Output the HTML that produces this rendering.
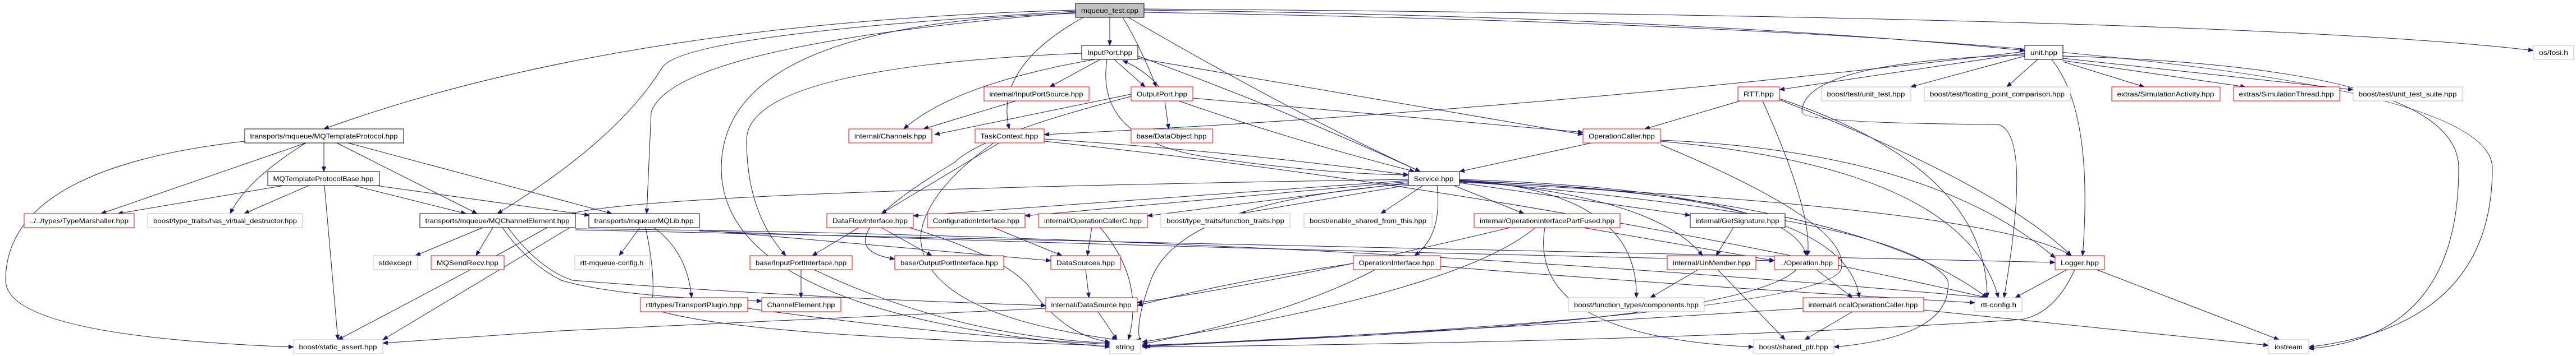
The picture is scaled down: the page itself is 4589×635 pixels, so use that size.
<!DOCTYPE html>
<html><head><meta charset="utf-8"><style>
html,body{margin:0;padding:0;background:#fff;}
svg{display:block}
text{font-family:"Liberation Sans",sans-serif;font-size:12px;fill:#000}
</style></head><body>
<svg width="4589" height="635" viewBox="0 0 4589 635" xmlns="http://www.w3.org/2000/svg">
<defs><marker id="a" markerWidth="10" markerHeight="8" refX="9" refY="4" orient="auto" markerUnits="userSpaceOnUse"><path d="M0,0 L10,4 L0,8 z" fill="#191970"/></marker></defs>
<g fill="none" stroke="#191970" stroke-width="1" marker-end="url(#a)">
<!-- mqueue_test -->
<path d="M1977 31 L1977 81"/>
<path d="M2000 31 Q2030 80 2060 155"/>
<path d="M1930 31 Q1770 120 1798 230"/>
<path d="M1916 18 Q1100 40 577 230"/>
<path d="M1916 20 Q1220 60 1180 120 Q1100 250 886 381"/>
<path d="M1916 22 Q1200 80 1160 200 L1152 381"/>
<path d="M2010 31 Q2300 200 2530 306"/>
<path d="M2038 18 Q3000 30 3607 90"/>
<path d="M2038 16 Q4000 30 4513 90"/>
<path d="M2038 22 Q4440 60 4440 300 Q4440 580 4113 619"/>
<path d="M1916 24 Q1285 40 1285 300 Q1285 560 1977 619"/>
<!-- InputPort -->
<path d="M1960 106 L1870 155"/>
<path d="M1985 106 L2040 155"/>
<path d="M1950 106 Q1700 150 1610 230"/>
<path d="M1927 95 Q1330 120 1330 250 Q1330 380 1400 456"/>
<path d="M2027 100 Q2300 200 2530 306"/>
<path d="M2027 104 L2820 240"/>
<path d="M1972 106 Q1950 250 2150 280 Q2350 310 2509 312"/>
<!-- OutputPort -->
<path d="M2065 155 Q2040 125 2000 108"/>
<path d="M2015 168 L1665 240"/>
<path d="M2075 180 L2082 230"/>
<path d="M2015 172 Q1750 240 1700 290 Q1450 440 1594 462"/>
<path d="M2100 180 Q2300 250 2520 306"/>
<path d="M2125 175 L2820 236"/>
<!-- InputPortSource -->
<path d="M1810 180 L1645 230"/>
<!-- TaskContext -->
<path d="M1780 255 L1570 381"/>
<path d="M1860 248 Q2200 270 2509 312"/>
<path d="M1860 252 Q2700 340 3540 531"/>
<path d="M1770 255 Q1650 340 1640 420 Q1640 560 1990 606"/>
<!-- unit -->
<path d="M3607 95 L3170 160"/>
<path d="M3607 100 L3404 155"/>
<path d="M3630 106 L3575 155"/>
<path d="M3675 110 L3820 155"/>
<path d="M3675 108 L4000 155"/>
<path d="M3675 104 L4192 160"/>
<path d="M3655 106 Q3730 200 3710 456"/>
<path d="M3607 98 Q3210 110 3210 200 Q3210 220 3560 222 Q3620 240 3570 531"/>
<path d="M3675 100 Q4380 120 4380 300 Q4380 600 4113 622"/>
<path d="M3607 92 Q2700 200 1860 240"/>
<!-- RTT -->
<path d="M3100 180 L2930 230"/>
<path d="M3140 180 Q3230 380 3220 456"/>
<path d="M3170 178 Q3560 330 3690 456"/>
<path d="M3170 176 Q3540 300 3540 531"/>
<!-- OperationCaller -->
<path d="M2835 255 L2600 306"/>
<path d="M2958 250 Q3440 270 3661 460"/>
<path d="M2958 258 Q3300 400 3280 480 Q3250 560 2040 618"/>
<path d="M2958 252 Q3500 300 3560 531"/>
<!-- Service -->
<path d="M2535 331 L2460 381"/>
<path d="M2590 331 L2715 381"/>
<path d="M2600 326 L3011 384"/>
<path d="M2560 331 Q2570 420 2520 456"/>
<path d="M2600 322 Q2950 350 3033 456"/>
<path d="M2600 320 Q3190 340 3218 456"/>
<path d="M2600 321 Q2920 340 2915 531"/>
<path d="M2600 324 Q3290 340 3312 531"/>
<path d="M2509 322 L1627 385"/>
<path d="M2509 324 L1826 385"/>
<path d="M2509 326 L2044 385"/>
<path d="M2509 330 L2210 381"/>
<path d="M2509 320 Q1200 340 1020 380 Q900 450 602 606"/>
<path d="M2509 328 Q2100 360 2050 500 Q2020 580 2032 612"/>
<path d="M2600 323 Q3400 390 3470 500 Q3480 600 3267 619"/>
<path d="M2600 322 Q3300 350 3540 531"/>
<path d="M2600 325 Q3550 370 3690 456"/>
<!-- MQTemplateProtocol -->
<path d="M577 255 L577 306"/>
<path d="M545 255 L180 381"/>
<path d="M545 255 Q440 320 410 381"/>
<path d="M600 255 L850 381"/>
<path d="M620 255 L1090 381"/>
<path d="M436 252 Q10 300 10 500 Q10 600 523 619"/>
<!-- MQTPB -->
<path d="M505 331 L210 381"/>
<path d="M550 331 L435 381"/>
<path d="M578 331 L602 606"/>
<path d="M630 331 L830 381"/>
<path d="M670 331 L1050 384"/>
<!-- MQChannelElement -->
<path d="M860 406 L740 456"/>
<path d="M878 406 L848 456"/>
<path d="M895 406 Q940 470 1000 500 Q1100 530 1357 537"/>
<path d="M905 406 Q960 480 1020 500 Q1400 530 1863 545"/>
<path d="M1025 410 Q2300 440 3661 468"/>
<path d="M1025 408 Q2300 420 3540 531"/>
<path d="M1025 400 L682 606"/>
<!-- MQLib -->
<path d="M1140 406 L1103 456"/>
<path d="M1165 406 Q1225 450 1232 531"/>
<path d="M1150 406 Q1170 500 1160 550 Q1300 600 1977 616"/>
<path d="M1246 410 L1872 465"/>
<path d="M1246 412 Q2000 440 3161 465"/>
<!-- DataFlowInterface -->
<path d="M1530 406 L1447 456"/>
<path d="M1570 406 L1660 456"/>
<path d="M1620 406 Q1800 460 1840 520 Q1900 600 1977 610"/>
<!-- ConfigurationInterface / OperationCallerC -->
<path d="M1770 406 L1892 456"/>
<path d="M1945 406 L1937 456"/>
<path d="M1960 406 Q2040 500 2010 606"/>
<!-- InputPortInterface -->
<path d="M1427 481 L1427 531"/>
<path d="M1450 481 Q1700 600 1977 612"/>
<!-- DataSources / DataSource -->
<path d="M1934 481 L1940 531"/>
<path d="M1956 556 L1990 606"/>
<path d="M1863 550 L1000 590 L682 612"/>
<!-- TransportPlugin -->
<path d="M1332 550 Q1700 600 1977 614"/>
<!-- OperationInterfacePartFused -->
<path d="M2690 406 Q2300 500 2026 540"/>
<path d="M2735 406 Q2600 520 2035 610"/>
<path d="M2752 406 Q2720 600 3124 619"/>
<path d="M2820 406 L3161 465"/>
<!-- OperationInterface -->
<path d="M2411 470 Q2200 500 2026 545"/>
<path d="M2450 481 Q2300 560 2035 614"/>
<path d="M2566 475 Q3000 510 3518 540"/>
<!-- GetSignature / UnMember / Operation -->
<path d="M3088 406 L3057 456"/>
<path d="M3025 481 L2940 531"/>
<path d="M3060 481 L3180 606"/>
<path d="M3236 481 L3300 531"/>
<path d="M3200 481 Q3100 580 2035 616"/>
<!-- LocalOperationCaller -->
<path d="M3300 556 L3215 606"/>
<path d="M3212 550 Q2600 590 2035 617"/>
<path d="M3427 553 L4041 616"/>
<!-- Logger -->
<path d="M3682 481 L3590 531"/>
<path d="M3735 481 L4060 606"/>
<path d="M3696 481 Q3660 560 3600 570 Q3000 610 2035 619"/>
</g>
<g stroke-width="1">
<!-- nodes: rect + text -->
<rect x="1916" y="6" width="122" height="25" fill="#bfbfbf" stroke="#000"/><text x="1977" y="23" text-anchor="middle" textLength="102" lengthAdjust="spacingAndGlyphs">mqueue_test.cpp</text>

<rect x="1927" y="81" width="100" height="25" fill="#fff" stroke="#000"/><text x="1977" y="98" text-anchor="middle" textLength="80" lengthAdjust="spacingAndGlyphs">InputPort.hpp</text>
<rect x="3607" y="81" width="68" height="25" fill="#fff" stroke="#000"/><text x="3641" y="98" text-anchor="middle" textLength="48" lengthAdjust="spacingAndGlyphs">unit.hpp</text>
<rect x="4513" y="81" width="72" height="25" fill="#fff" stroke="#bfbfbf"/><text x="4549" y="98" text-anchor="middle" textLength="52" lengthAdjust="spacingAndGlyphs">os/fosi.h</text>

<rect x="1753" y="155" width="187" height="25" fill="#fff" stroke="#f00"/><text x="1846" y="172" text-anchor="middle" textLength="167" lengthAdjust="spacingAndGlyphs">internal/InputPortSource.hpp</text>
<rect x="2015" y="155" width="110" height="25" fill="#fff" stroke="#f00"/><text x="2070" y="172" text-anchor="middle" textLength="90" lengthAdjust="spacingAndGlyphs">OutputPort.hpp</text>
<rect x="3096" y="155" width="74" height="25" fill="#fff" stroke="#f00"/><text x="3133" y="172" text-anchor="middle" textLength="54" lengthAdjust="spacingAndGlyphs">RTT.hpp</text>
<rect x="3245" y="155" width="159" height="25" fill="#fff" stroke="#bfbfbf"/><text x="3324" y="172" text-anchor="middle" textLength="139" lengthAdjust="spacingAndGlyphs">boost/test/unit_test.hpp</text>
<rect x="3428" y="155" width="260" height="25" fill="#fff" stroke="#bfbfbf"/><text x="3558" y="172" text-anchor="middle" textLength="240" lengthAdjust="spacingAndGlyphs">boost/test/floating_point_comparison.hpp</text>
<rect x="3762" y="155" width="193" height="25" fill="#fff" stroke="#f00"/><text x="3858" y="172" text-anchor="middle" textLength="173" lengthAdjust="spacingAndGlyphs">extras/SimulationActivity.hpp</text>
<rect x="3979" y="155" width="189" height="25" fill="#fff" stroke="#f00"/><text x="4073" y="172" text-anchor="middle" textLength="169" lengthAdjust="spacingAndGlyphs">extras/SimulationThread.hpp</text>
<rect x="4192" y="155" width="195" height="25" fill="#fff" stroke="#bfbfbf"/><text x="4289" y="172" text-anchor="middle" textLength="175" lengthAdjust="spacingAndGlyphs">boost/test/unit_test_suite.hpp</text>

<rect x="436" y="230" width="283" height="25" fill="#fff" stroke="#000"/><text x="577" y="247" text-anchor="middle" textLength="263" lengthAdjust="spacingAndGlyphs">transports/mqueue/MQTemplateProtocol.hpp</text>
<rect x="1512" y="230" width="148" height="25" fill="#fff" stroke="#f00"/><text x="1586" y="247" text-anchor="middle" textLength="128" lengthAdjust="spacingAndGlyphs">internal/Channels.hpp</text>
<rect x="1737" y="230" width="123" height="25" fill="#fff" stroke="#f00"/><text x="1798" y="247" text-anchor="middle" textLength="103" lengthAdjust="spacingAndGlyphs">TaskContext.hpp</text>
<rect x="2015" y="230" width="145" height="25" fill="#fff" stroke="#f00"/><text x="2087" y="247" text-anchor="middle" textLength="125" lengthAdjust="spacingAndGlyphs">base/DataObject.hpp</text>
<rect x="2820" y="230" width="138" height="25" fill="#fff" stroke="#f00"/><text x="2889" y="247" text-anchor="middle" textLength="118" lengthAdjust="spacingAndGlyphs">OperationCaller.hpp</text>

<rect x="477" y="306" width="199" height="25" fill="#fff" stroke="#000"/><text x="576" y="323" text-anchor="middle" textLength="179" lengthAdjust="spacingAndGlyphs">MQTemplateProtocolBase.hpp</text>
<rect x="2509" y="306" width="91" height="25" fill="#fff" stroke="#000"/><text x="2554" y="323" text-anchor="middle" textLength="71" lengthAdjust="spacingAndGlyphs">Service.hpp</text>

<rect x="43" y="381" width="196" height="25" fill="#fff" stroke="#f00"/><text x="141" y="398" text-anchor="middle" textLength="176" lengthAdjust="spacingAndGlyphs">../../types/TypeMarshaller.hpp</text>
<rect x="263" y="381" width="276" height="25" fill="#fff" stroke="#bfbfbf"/><text x="401" y="398" text-anchor="middle" textLength="256" lengthAdjust="spacingAndGlyphs">boost/type_traits/has_virtual_destructor.hpp</text>
<rect x="748" y="381" width="277" height="25" fill="#fff" stroke="#000"/><text x="886" y="398" text-anchor="middle" textLength="257" lengthAdjust="spacingAndGlyphs">transports/mqueue/MQChannelElement.hpp</text>
<rect x="1049" y="381" width="197" height="25" fill="#fff" stroke="#000"/><text x="1147" y="398" text-anchor="middle" textLength="177" lengthAdjust="spacingAndGlyphs">transports/mqueue/MQLib.hpp</text>
<rect x="1473" y="381" width="154" height="25" fill="#fff" stroke="#f00"/><text x="1550" y="398" text-anchor="middle" textLength="134" lengthAdjust="spacingAndGlyphs">DataFlowInterface.hpp</text>
<rect x="1652" y="381" width="174" height="25" fill="#fff" stroke="#f00"/><text x="1739" y="398" text-anchor="middle" textLength="154" lengthAdjust="spacingAndGlyphs">ConfigurationInterface.hpp</text>
<rect x="1850" y="381" width="194" height="25" fill="#fff" stroke="#f00"/><text x="1947" y="398" text-anchor="middle" textLength="174" lengthAdjust="spacingAndGlyphs">internal/OperationCallerC.hpp</text>
<rect x="2068" y="381" width="230" height="25" fill="#fff" stroke="#bfbfbf"/><text x="2183" y="398" text-anchor="middle" textLength="210" lengthAdjust="spacingAndGlyphs">boost/type_traits/function_traits.hpp</text>
<rect x="2323" y="381" width="228" height="25" fill="#fff" stroke="#bfbfbf"/><text x="2437" y="398" text-anchor="middle" textLength="208" lengthAdjust="spacingAndGlyphs">boost/enable_shared_from_this.hpp</text>
<rect x="2626" y="381" width="260" height="25" fill="#fff" stroke="#f00"/><text x="2756" y="398" text-anchor="middle" textLength="240" lengthAdjust="spacingAndGlyphs">internal/OperationInterfacePartFused.hpp</text>
<rect x="3011" y="381" width="169" height="25" fill="#fff" stroke="#000"/><text x="3095" y="398" text-anchor="middle" textLength="149" lengthAdjust="spacingAndGlyphs">internal/GetSignature.hpp</text>

<rect x="665" y="456" width="79" height="25" fill="#fff" stroke="#bfbfbf"/><text x="704" y="473" text-anchor="middle" textLength="59" lengthAdjust="spacingAndGlyphs">stdexcept</text>
<rect x="768" y="456" width="130" height="25" fill="#fff" stroke="#f00"/><text x="833" y="473" text-anchor="middle" textLength="110" lengthAdjust="spacingAndGlyphs">MQSendRecv.hpp</text>
<rect x="1024" y="456" width="133" height="25" fill="#fff" stroke="#bfbfbf"/><text x="1090" y="473" text-anchor="middle" textLength="113" lengthAdjust="spacingAndGlyphs">rtt-mqueue-config.h</text>
<rect x="1336" y="456" width="182" height="25" fill="#fff" stroke="#f00"/><text x="1427" y="473" text-anchor="middle" textLength="162" lengthAdjust="spacingAndGlyphs">base/InputPortInterface.hpp</text>
<rect x="1594" y="456" width="194" height="25" fill="#fff" stroke="#f00"/><text x="1691" y="473" text-anchor="middle" textLength="174" lengthAdjust="spacingAndGlyphs">base/OutputPortInterface.hpp</text>
<rect x="1872" y="456" width="124" height="25" fill="#fff" stroke="#f00"/><text x="1934" y="473" text-anchor="middle" textLength="104" lengthAdjust="spacingAndGlyphs">DataSources.hpp</text>
<rect x="2411" y="456" width="155" height="25" fill="#fff" stroke="#f00"/><text x="2488" y="473" text-anchor="middle" textLength="135" lengthAdjust="spacingAndGlyphs">OperationInterface.hpp</text>
<rect x="2970" y="456" width="158" height="25" fill="#fff" stroke="#f00"/><text x="3049" y="473" text-anchor="middle" textLength="138" lengthAdjust="spacingAndGlyphs">internal/UnMember.hpp</text>
<rect x="3161" y="456" width="114" height="25" fill="#fff" stroke="#f00"/><text x="3218" y="473" text-anchor="middle" textLength="94" lengthAdjust="spacingAndGlyphs">../Operation.hpp</text>
<rect x="3661" y="456" width="88" height="25" fill="#fff" stroke="#f00"/><text x="3705" y="473" text-anchor="middle" textLength="68" lengthAdjust="spacingAndGlyphs">Logger.hpp</text>

<rect x="1141" y="531" width="191" height="25" fill="#fff" stroke="#f00"/><text x="1236" y="548" text-anchor="middle" textLength="171" lengthAdjust="spacingAndGlyphs">rtt/types/TransportPlugin.hpp</text>
<rect x="1357" y="531" width="141" height="25" fill="#fff" stroke="#f00"/><text x="1427" y="548" text-anchor="middle" textLength="121" lengthAdjust="spacingAndGlyphs">ChannelElement.hpp</text>
<rect x="1863" y="531" width="163" height="25" fill="#fff" stroke="#f00"/><text x="1944" y="548" text-anchor="middle" textLength="143" lengthAdjust="spacingAndGlyphs">internal/DataSource.hpp</text>
<rect x="2794" y="531" width="242" height="25" fill="#fff" stroke="#bfbfbf"/><text x="2915" y="548" text-anchor="middle" textLength="222" lengthAdjust="spacingAndGlyphs">boost/function_types/components.hpp</text>
<rect x="3212" y="531" width="215" height="25" fill="#fff" stroke="#f00"/><text x="3319" y="548" text-anchor="middle" textLength="195" lengthAdjust="spacingAndGlyphs">internal/LocalOperationCaller.hpp</text>
<rect x="3518" y="531" width="84" height="25" fill="#fff" stroke="#bfbfbf"/><text x="3560" y="548" text-anchor="middle" textLength="64" lengthAdjust="spacingAndGlyphs">rtt-config.h</text>

<rect x="523" y="606" width="159" height="25" fill="#fff" stroke="#bfbfbf"/><text x="602" y="623" text-anchor="middle" textLength="139" lengthAdjust="spacingAndGlyphs">boost/static_assert.hpp</text>
<rect x="1977" y="606" width="55" height="25" fill="#fff" stroke="#bfbfbf"/><text x="2004" y="623" text-anchor="middle" textLength="33" lengthAdjust="spacingAndGlyphs">string</text>
<rect x="3124" y="606" width="143" height="25" fill="#fff" stroke="#bfbfbf"/><text x="3195" y="623" text-anchor="middle" textLength="123" lengthAdjust="spacingAndGlyphs">boost/shared_ptr.hpp</text>
<rect x="4041" y="606" width="72" height="25" fill="#fff" stroke="#bfbfbf"/><text x="4077" y="623" text-anchor="middle" textLength="50" lengthAdjust="spacingAndGlyphs">iostream</text>
</g>
</svg>
</body></html>
